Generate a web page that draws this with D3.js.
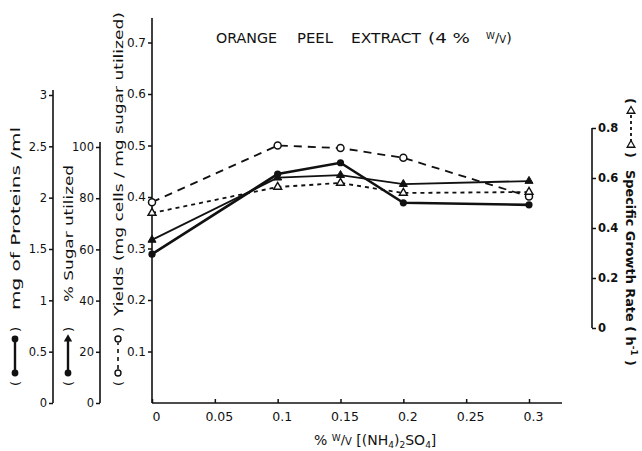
<!DOCTYPE html>
<html>
<head>
<meta charset="utf-8">
<script src="https://cdn.jsdelivr.net/npm/d3@7"></script>
<style>
  html, body { margin: 0; padding: 0; background: #fff; }
  svg { display: block; }
  text { font-family: "DejaVu Sans", sans-serif; fill: #111; }
</style>
</head>
<body>
<svg id="chart" width="642" height="451"></svg>
<script>
// Ammonium sulphate concentration, % w/v
const nh4Levels = [0, 0.1, 0.15, 0.2, 0.3];
// Yields, mg cells / mg sugar utilized (open circles, dashed)
const yields = [0.39, 0.50, 0.495, 0.476, 0.401];
// Specific growth rate, h^-1 (open triangles, short dashes)
const growthRate = [0.46, 0.564, 0.58, 0.54, 0.544];
// % sugar utilized (solid, triangles)
const sugarUtilized = [63.7, 88, 89, 85.5, 86.7];
// mg of proteins / ml (solid, dots)
const proteins = [1.45, 2.23, 2.34, 1.95, 1.93];

const xTicks = [0, 0.05, 0.1, 0.15, 0.2, 0.25, 0.3];
const xTickLabels = ["0", "0.05", "0.1", "0.15", "0.2", "0.25", "0.3"];
const yieldTicks = [0.1, 0.2, 0.3, 0.4, 0.5, 0.6, 0.7];
const proteinTicks = [0, 0.5, 1, 1.5, 2, 2.5, 3];
const sugarTicks = [0, 20, 40, 60, 80, 100];
const growthTicks = [0, 0.2, 0.4, 0.6, 0.8];

const svg = d3.select("#chart");
svg.append("rect").attr("width", 642).attr("height", 451).attr("fill", "#fff");

const x = d3.scaleLinear().domain([0, 0.3]).range([152, 529]);
const yYield = d3.scaleLinear().domain([0, 0.7]).range([403, 42.5]);
const yProtein = d3.scaleLinear().domain([0, 3]).range([403, 95]);
const ySugar = d3.scaleLinear().domain([0, 100]).range([403, 147]);
const yGrowth = d3.scaleLinear().domain([0, 0.8]).range([328, 128]);

function styleAxis(g, fontSize) {
  g.selectAll(".domain").remove();
  g.selectAll(".tick line").attr("stroke", "#111").attr("stroke-width", 1.5);
  g.selectAll(".tick text")
    .attr("font-size", fontSize)
    .attr("font-family", "DejaVu Sans, sans-serif")
    .attr("fill", "#111");
}

function axisLine(x1, y1, x2, y2) {
  svg.append("line")
    .attr("x1", x1).attr("y1", y1).attr("x2", x2).attr("y2", y2)
    .attr("stroke", "#111").attr("stroke-width", 1.6);
}

// ---- x axis ----
const gx = svg.append("g").attr("transform", `translate(0,${yYield(0)})`)
  .call(d3.axisBottom(x).tickValues(xTicks)
    .tickFormat((d, i) => xTickLabels[i]).tickSize(-4).tickPadding(9));
styleAxis(gx, 12.5);
gx.selectAll(".tick text").attr("dx", 4);
axisLine(x(0), yYield(0), 562, yYield(0));

// ---- main y axis: yields ----
const gy = svg.append("g").attr("transform", `translate(${x(0)},0)`)
  .call(d3.axisLeft(yYield).tickValues(yieldTicks).tickFormat(d3.format(".1f"))
    .tickSize(4).tickPadding(2));
styleAxis(gy, 12);
axisLine(x(0), yYield(0), x(0), 18);

// ---- proteins axis ----
const gp = svg.append("g").attr("transform", "translate(53,0)")
  .call(d3.axisLeft(yProtein).tickValues(proteinTicks).tickFormat(d => String(d))
    .tickSize(4).tickPadding(2));
styleAxis(gp, 11.5);
axisLine(53, yProtein(0), 53, yProtein(3) - 5);

// ---- sugar axis ----
const gs = svg.append("g").attr("transform", "translate(100,0)")
  .call(d3.axisLeft(ySugar).tickValues(sugarTicks).tickFormat(d => String(d))
    .tickSize(4).tickPadding(2));
styleAxis(gs, 11.5);
axisLine(100, ySugar(0), 100, ySugar(100) - 5);

// ---- specific growth rate axis (right) ----
const gg = svg.append("g").attr("transform", "translate(592,0)")
  .call(d3.axisRight(yGrowth).tickValues(growthTicks).tickFormat(d => d === 0 ? "0" : d3.format(".1f")(d))
    .tickSize(4).tickPadding(2));
styleAxis(gg, 11.5);
gg.selectAll(".tick text").attr("font-weight", "bold");
axisLine(592, yGrowth(0), 592, yGrowth(0.8));

// ---- series ----
const pts = (vals, yScale) => nh4Levels.map((v, i) => [x(v), yScale(vals[i])]);
const line = d3.line();

function drawSeries(p, dash, width) {
  svg.append("path").attr("d", line(p)).attr("fill", "none")
    .attr("stroke", "#111").attr("stroke-width", width)
    .attr("stroke-dasharray", dash);
}

const triPath = d3.symbol().type(d3.symbolTriangle).size(28);

const pYield = pts(yields, yYield);
const pGrowth = pts(growthRate, yGrowth);
const pSugar = pts(sugarUtilized, ySugar);
const pProt = pts(proteins, yProtein);

drawSeries(pYield, "8,6", 1.8);
drawSeries(pGrowth, "4,4", 1.8);
drawSeries(pSugar, null, 1.8);
drawSeries(pProt, null, 2.6);

svg.selectAll(".m-yield").data(pYield).join("circle")
  .attr("cx", d => d[0]).attr("cy", d => d[1]).attr("r", 3.5)
  .attr("fill", "#fff").attr("stroke", "#111").attr("stroke-width", 1.5);
svg.selectAll(".m-growth").data(pGrowth).join("path")
  .attr("transform", d => `translate(${d[0]},${d[1]})`).attr("d", triPath)
  .attr("fill", "#fff").attr("stroke", "#111").attr("stroke-width", 1.4);
svg.selectAll(".m-sugar").data(pSugar).join("path")
  .attr("transform", d => `translate(${d[0]},${d[1]})`).attr("d", triPath)
  .attr("fill", "#111").attr("stroke", "#111").attr("stroke-width", 1);
svg.selectAll(".m-prot").data(pProt).join("circle")
  .attr("cx", d => d[0]).attr("cy", d => d[1]).attr("r", 3.6)
  .attr("fill", "#111");

// ---- title ----
const titleParts = [
  ["ORANGE", 216, 61], ["PEEL", 297, 36], ["EXTRACT", 351, 70], ["(4 %", 428, 42]
];
titleParts.forEach(([t, tx, w]) => {
  svg.append("text").attr("x", tx).attr("y", 43).attr("font-size", 14)
    .attr("textLength", w).attr("lengthAdjust", "spacingAndGlyphs").text(t);
});
const wv = svg.append("text").attr("x", 486).attr("y", 43).attr("font-size", 14);
wv.append("tspan").attr("font-size", 9).attr("dy", -4).text("W");
wv.append("tspan").attr("font-size", 13).attr("dy", 3).text("/");
wv.append("tspan").attr("font-size", 10).attr("dy", 1).text("V");
wv.append("tspan").attr("font-size", 14).attr("dy", 0).text(")");

// ---- x axis title ----
const xt = svg.append("text").attr("x", 314).attr("y", 445).attr("font-size", 14);
xt.append("tspan").text("%  ");
xt.append("tspan").attr("font-size", 9).attr("dy", -4).text("W");
xt.append("tspan").attr("font-size", 13).attr("dy", 3).text("/");
xt.append("tspan").attr("font-size", 10).attr("dy", 1).text("V");
xt.append("tspan").attr("font-size", 14).attr("dy", -0).text("  [(NH");
xt.append("tspan").attr("font-size", 9).attr("dy", 3).text("4");
xt.append("tspan").attr("font-size", 14).attr("dy", -3).text(")");
xt.append("tspan").attr("font-size", 9).attr("dy", 3).text("2");
xt.append("tspan").attr("font-size", 14).attr("dy", -3).text("SO");
xt.append("tspan").attr("font-size", 9).attr("dy", 3).text("4");
xt.append("tspan").attr("font-size", 14).attr("dy", -3).text("]");

// ---- rotated axis titles with inline key symbols ----
function keyTitle(tx, ty, angle, kind, label, textStart, textLen, bold) {
  const g = svg.append("g").attr("transform", `translate(${tx},${ty}) rotate(${angle})`);
  const fs = 13;
  g.append("text").attr("x", 0).attr("y", 5).attr("font-size", fs).attr("font-weight", bold ? "bold" : "normal").text("(");
  g.append("text").attr("x", 54).attr("y", 5).attr("font-size", fs).attr("font-weight", bold ? "bold" : "normal").text(")");
  const x1 = 13, x2 = 47;
  if (kind === "dot" || kind === "sugar") {
    g.append("line").attr("x1", x1).attr("x2", x2).attr("y1", 0).attr("y2", 0)
      .attr("stroke", "#111").attr("stroke-width", 2.4);
    g.append("circle").attr("cx", x1).attr("cy", 0).attr("r", 3.4).attr("fill", "#111");
    if (kind === "dot") {
      g.append("circle").attr("cx", x2).attr("cy", 0).attr("r", 3.4).attr("fill", "#111");
    } else {
      g.append("path").attr("transform", `translate(${x2},0) rotate(90)`)
        .attr("d", d3.symbol().type(d3.symbolTriangle).size(30)).attr("fill", "#111");
    }
  } else if (kind === "open") {
    g.append("line").attr("x1", x1 + 4).attr("x2", x2 - 4).attr("y1", 0).attr("y2", 0)
      .attr("stroke", "#111").attr("stroke-width", 1.6).attr("stroke-dasharray", "4,4");
    [x1, x2].forEach(cx => g.append("circle").attr("cx", cx).attr("cy", 0).attr("r", 3)
      .attr("fill", "#fff").attr("stroke", "#111").attr("stroke-width", 1.4));
  } else {
    g.append("line").attr("x1", x1 + 4).attr("x2", x2 - 4).attr("y1", 0).attr("y2", 0)
      .attr("stroke", "#111").attr("stroke-width", 1.8).attr("stroke-dasharray", "3,3");
    [x1, x2].forEach(cx => g.append("path").attr("transform", `translate(${cx},0) rotate(${angle > 0 ? -90 : 90})`)
      .attr("d", d3.symbol().type(d3.symbolTriangle).size(26))
      .attr("fill", "#fff").attr("stroke", "#111").attr("stroke-width", 1.3));
  }
  const t = g.append("text").attr("x", textStart).attr("y", 5).attr("font-size", fs)
    .attr("font-weight", bold ? "bold" : "normal")
    .attr("textLength", textLen).attr("lengthAdjust", "spacingAndGlyphs");
  label.forEach(part => {
    const s = t.append("tspan").text(part.t);
    if (part.sup) s.attr("font-size", 9).attr("dy", -5);
    if (part.down) s.attr("dy", 5);
  });
}

keyTitle(15, 386, -90, "dot", [{ t: "mg  of  Proteins  /ml" }], 76, 183, false);
keyTitle(68, 386, -90, "sugar", [{ t: "% Sugar  utilized" }], 84, 137, false);
keyTitle(118, 386, -90, "open", [{ t: "Yields  (mg  cells / mg  sugar  utilized)" }], 70, 304, false);
keyTitle(631, 98, 90, "tri", [{ t: "Specific  Growth  Rate  ( h" }, { t: "-1", sup: true }, { t: " )", down: true }], 72, 196, true);
</script>
</body>
</html>
